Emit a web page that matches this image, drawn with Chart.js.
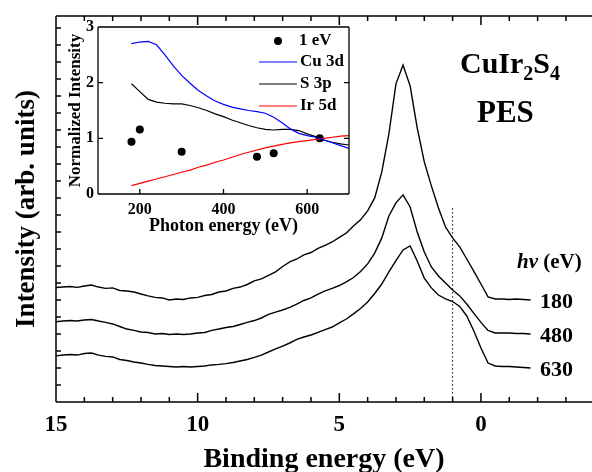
<!DOCTYPE html>
<html>
<head>
<meta charset="utf-8">
<script src="https://cdn.jsdelivr.net/npm/chart.js@4.4.1/dist/chart.umd.min.js"></script>
<style>
html, body { margin: 0; padding: 0; background: #fff; }
#wrap { position: relative; width: 592px; height: 472px; overflow: hidden; }
.box { position: absolute; }
</style>
</head>
<body>
<div id="wrap">
  <div class="box" style="left:0;top:0;width:592px;height:472px"><canvas id="main" width="592" height="472"></canvas></div>
  <div class="box" style="left:60px;top:0;width:300px;height:240px"><canvas id="inset" width="300" height="240"></canvas></div>
</div>
<script>
// ---- main panel: PES spectra (binding energy, eV) ----
const bindingEnergy = [15, 14.75, 14.5, 14.25, 14, 13.75, 13.5, 13.25, 13, 12.75, 12.5, 12.25, 12, 11.75, 11.5, 11.25,
  11, 10.75, 10.5, 10.25, 10, 9.75, 9.5, 9.25, 9, 8.75, 8.5, 8.25, 8, 7.75, 7.5, 7.25, 7, 6.75, 6.5, 6.25, 6, 5.75,
  5.5, 5.25, 5, 4.75, 4.5, 4.25, 4, 3.75, 3.5, 3.25, 3, 2.75, 2.5, 2.25, 2, 1.75, 1.5, 1.25, 1, 0.75, 0.5, 0.25, 0,
  -0.25, -0.5, -0.75, -1, -1.25, -1.5, -1.75];
const pes180 = [6.73, 6.76, 6.79, 6.74, 6.82, 6.88, 6.76, 6.68, 6.71, 6.56, 6.53, 6.47, 6.35, 6.24, 6.15, 6.12,
  6.00, 6.06, 6.03, 6.12, 6.15, 6.26, 6.32, 6.47, 6.53, 6.68, 6.76, 6.91, 7.12, 7.24, 7.44, 7.65, 7.97, 8.24, 8.41,
  8.65, 8.79, 9.03, 9.21, 9.41, 9.68, 9.94, 10.35, 10.71, 11.24, 12.00, 13.53, 15.76, 18.71, 19.82, 18.59, 16.12,
  14.12, 12.71, 11.41, 10.29, 9.65, 9.12, 8.41, 7.68, 6.94, 6.18, 6.06, 6.06, 6.03, 6.06, 6.03, 6.00];
const pes480 = [4.72, 4.76, 4.79, 4.76, 4.82, 4.85, 4.76, 4.68, 4.59, 4.44, 4.29, 4.21, 4.12, 4.09, 4.00, 4.03,
  3.97, 4.00, 3.97, 4.00, 4.06, 4.09, 4.21, 4.29, 4.38, 4.44, 4.56, 4.68, 4.79, 4.94, 5.15, 5.29, 5.41, 5.56, 5.76,
  5.97, 6.12, 6.35, 6.53, 6.68, 6.85, 7.06, 7.32, 7.68, 8.12, 8.76, 9.65, 10.94, 11.71, 12.18, 11.47, 10.00, 8.82,
  7.94, 7.41, 7.00, 6.59, 6.24, 5.76, 5.21, 4.68, 4.21, 4.06, 4.06, 4.06, 4.03, 4.03, 4.00];
const pes630 = [2.71, 2.76, 2.79, 2.76, 2.85, 2.88, 2.76, 2.68, 2.65, 2.50, 2.44, 2.35, 2.29, 2.21, 2.15, 2.12,
  2.09, 2.06, 2.09, 2.06, 2.09, 2.12, 2.18, 2.21, 2.26, 2.32, 2.41, 2.50, 2.62, 2.76, 2.94, 3.12, 3.29, 3.47, 3.68,
  3.82, 3.94, 4.09, 4.26, 4.41, 4.65, 4.88, 5.18, 5.50, 5.88, 6.38, 6.94, 7.65, 8.32, 8.94, 9.18, 8.29, 7.29, 6.71,
  6.29, 6.06, 5.91, 5.62, 5.06, 4.18, 3.18, 2.29, 2.12, 2.09, 2.09, 2.06, 2.03, 2.00];
const markerEnergy = [1, 1];      // dotted line at 1 eV
const markerLevel = [11.4, 0];
const xTickLabels = [15, 10, 5, 0];
const curveLabels = ['180', '480', '630'];

// ---- inset: photon energy dependence ----
const photonEnergy = [180, 200, 220, 240, 260, 280, 300, 320, 340, 360, 380, 400, 420, 440, 460, 480, 500, 520,
  540, 560, 580, 600, 620, 640, 660, 680, 700];
const cu3d = [2.70, 2.73, 2.74, 2.68, 2.50, 2.30, 2.13, 1.99, 1.86, 1.76, 1.67, 1.61, 1.56, 1.53, 1.50, 1.48, 1.45,
  1.38, 1.28, 1.17, 1.09, 1.05, 1.02, 0.97, 0.92, 0.87, 0.82];
const s3p = [1.98, 1.84, 1.70, 1.65, 1.63, 1.62, 1.62, 1.59, 1.55, 1.50, 1.44, 1.39, 1.33, 1.28, 1.23, 1.19, 1.16,
  1.15, 1.16, 1.16, 1.14, 1.08, 1.03, 0.97, 0.93, 0.90, 0.88];
const ir5d = [0.15, 0.19, 0.23, 0.27, 0.31, 0.35, 0.39, 0.43, 0.48, 0.52, 0.57, 0.61, 0.66, 0.71, 0.75, 0.79, 0.83,
  0.86, 0.89, 0.92, 0.94, 0.96, 0.98, 1.00, 1.02, 1.04, 1.05];
const dotEnergy = [180, 200, 300, 480, 520, 630];
const dotIntensity = [0.94, 1.16, 0.76, 0.67, 0.73, 1.00];
const insetXTicks = [200, 400, 600];

const SERIF = '"Liberation Serif", "DejaVu Serif", serif';
const pts = (xs, ys) => xs.map((x, i) => ({ x: x, y: ys[i] }));
const bold = (size, style) => (style || '') + ' bold ' + size + 'px ' + SERIF;

// ticks pointing inward, frame lines
function drawFrame(chart, o) {
    const { ctx, chartArea: a, scales: { x, y } } = chart;
    ctx.save();
    ctx.strokeStyle = '#000';
    ctx.lineWidth = o.width;
    ctx.beginPath();
    ctx.moveTo(a.left, a.top); ctx.lineTo(a.left, a.bottom);
    ctx.moveTo(a.left, a.bottom); ctx.lineTo(a.right, a.bottom);
    ctx.moveTo(a.left, a.top); ctx.lineTo(a.right, a.top);
    if (o.right) { ctx.moveTo(a.right, a.top); ctx.lineTo(a.right, a.bottom); }
    o.xTicks.forEach(t => {
        const px = x.getPixelForValue(t.v);
        ctx.moveTo(px, a.bottom); ctx.lineTo(px, a.bottom - t.len);
        if (o.topTicks) { ctx.moveTo(px, a.top); ctx.lineTo(px, a.top + t.len); }
    });
    o.yTicks.forEach(v => {
        const py = y.getPixelForValue(v);
        ctx.moveTo(a.left, py); ctx.lineTo(a.left + o.yLen, py);
        if (o.right) { ctx.moveTo(a.right, py); ctx.lineTo(a.right - o.yLen, py); }
    });
    ctx.stroke();
    ctx.restore();
}

const mainXTicks = [];
for (let e = 15; e >= -3; e--) mainXTicks.push({ v: e, len: e % 5 === 0 ? 9 : 5 });
const mainYTicks = [];
for (let v = 1; v <= 22; v++) mainYTicks.push(v);

const mainDecor = {
    id: 'mainDecor',
    afterDraw(chart) {
        drawFrame(chart, { width: 1.5, xTicks: mainXTicks, yTicks: mainYTicks, yLen: 5, topTicks: true, right: false });
        const { ctx, scales: { y } } = chart;
        ctx.save();
        ctx.fillStyle = '#000';
        ctx.textBaseline = 'alphabetic';
        // compound label with subscripts
        let cx = 460;
        [['Cu', 30, 0], ['Ir', 30, 0], ['2', 20, 7], ['S', 30, 0], ['4', 20, 7]].forEach(p => {
            ctx.font = bold(p[1]);
            ctx.fillText(p[0], cx, 73 + p[2]);
            cx += ctx.measureText(p[0]).width;
        });
        ctx.font = bold(31);
        ctx.fillText('PES', 477, 122);
        ctx.font = bold(21, 'italic');
        ctx.fillText('hν', 517, 268);
        const w = ctx.measureText('hν').width;
        ctx.font = bold(21);
        ctx.fillText(' (eV)', 517 + w, 268);
        ctx.font = bold(22);
        [pes180, pes480, pes630].forEach((s, i) => {
            ctx.fillText(curveLabels[i], 540, y.getPixelForValue(s[s.length - 1]) + 8);
        });
        ctx.restore();
    }
};

const lineDs = (data, color, width) => ({
    data: data, borderColor: color, borderWidth: width, pointRadius: 0, tension: 0, fill: false
});

new Chart(document.getElementById('main'), {
    type: 'line',
    data: {
        datasets: [
            lineDs(pts(bindingEnergy, pes180), '#000', 1.4),
            lineDs(pts(bindingEnergy, pes480), '#000', 1.4),
            lineDs(pts(bindingEnergy, pes630), '#000', 1.4),
            Object.assign(lineDs(pts(markerEnergy, markerLevel), '#000', 1), { borderDash: [1.5, 2.5] })
        ]
    },
    options: {
        responsive: false,
        animation: false,
        devicePixelRatio: 1,
        layout: { padding: { top: 16, right: 0, bottom: 0, left: 0 } },
        plugins: { legend: { display: false }, tooltip: { enabled: false } },
        scales: {
            x: {
                type: 'linear', reverse: true, min: -3.92, max: 15,
                afterBuildTicks: s => { s.ticks = xTickLabels.map(v => ({ value: v })); },
                afterFit: s => { s.height = 70; },
                grid: { display: false, drawTicks: false },
                border: { display: false },
                ticks: { color: '#000', font: { family: SERIF, size: 23, weight: 'bold' }, padding: 9, maxRotation: 0, autoSkip: false },
                title: { display: true, text: 'Binding energy (eV)', color: '#000',
                    font: { family: SERIF, size: 28, weight: 'bold' }, padding: { top: 0, bottom: -5 } }
            },
            y: {
                min: 0, max: 22.7,
                afterFit: s => { s.width = 56; },
                grid: { display: false, drawTicks: false },
                border: { display: false },
                ticks: { display: false },
                title: { display: true, text: 'Intensity (arb. units)', color: '#000',
                    font: { family: SERIF, size: 27, weight: 'bold' }, padding: { top: 11, bottom: 0 } }
            }
        }
    },
    plugins: [mainDecor]
});

const insetDecor = {
    id: 'insetDecor',
    afterDraw(chart) {
        drawFrame(chart, { width: 1.3, xTicks: insetXTicks.map(v => ({ v: v, len: 5 })), yTicks: [1, 2], yLen: 5, topTicks: false, right: true });
        const ctx = chart.ctx;
        ctx.save();
        ctx.font = bold(17);
        ctx.fillStyle = '#000';
        ctx.textBaseline = 'middle';
        ctx.beginPath();
        ctx.arc(218, 41, 4, 0, Math.PI * 2);
        ctx.fill();
        ctx.fillText('1 eV', 239, 41);
        [['Cu 3d', '#0000ff', 62], ['S 3p', '#000', 84], ['Ir 5d', '#ff0000', 106]].forEach(r => {
            ctx.strokeStyle = r[1];
            ctx.lineWidth = 1.2;
            ctx.beginPath();
            ctx.moveTo(199, r[2]); ctx.lineTo(237, r[2]);
            ctx.stroke();
            ctx.fillText(r[0], 240, r[2]);
        });
        ctx.restore();
    }
};

new Chart(document.getElementById('inset'), {
    type: 'line',
    data: {
        datasets: [
            lineDs(pts(photonEnergy, cu3d), '#0000ff', 1.2),
            lineDs(pts(photonEnergy, s3p), '#000', 1.2),
            lineDs(pts(photonEnergy, ir5d), '#ff0000', 1.2),
            { data: pts(dotEnergy, dotIntensity), showLine: false, pointRadius: 4, pointBackgroundColor: '#000', pointBorderColor: '#000', pointBorderWidth: 0 }
        ]
    },
    options: {
        responsive: false,
        animation: false,
        devicePixelRatio: 1,
        layout: { padding: { top: 27, right: 11, bottom: 0, left: 0 } },
        plugins: { legend: { display: false }, tooltip: { enabled: false } },
        scales: {
            x: {
                type: 'linear', min: 100, max: 700,
                afterBuildTicks: s => { s.ticks = insetXTicks.map(v => ({ value: v })); },
                afterFit: s => { s.height = 46; },
                grid: { display: false, drawTicks: false },
                border: { display: false },
                ticks: { color: '#000', font: { family: SERIF, size: 16, weight: 'bold' }, padding: 6, maxRotation: 0, autoSkip: false },
                title: { display: true, text: 'Photon energy (eV)', color: '#000',
                    font: { family: SERIF, size: 18, weight: 'bold' }, padding: { top: 0, bottom: 3 } }
            },
            y: {
                min: 0, max: 3,
                afterFit: s => { s.width = 38; },
                grid: { display: false, drawTicks: false },
                border: { display: false },
                ticks: { stepSize: 1, color: '#000', font: { family: SERIF, size: 16, weight: 'bold' }, padding: 4 },
                title: { display: true, text: 'Normalized Intensity', color: '#000',
                    font: { family: SERIF, size: 17, weight: 'bold' }, padding: { top: 5, bottom: 0 } }
            }
        }
    },
    plugins: [insetDecor]
});
</script>
</body>
</html>
